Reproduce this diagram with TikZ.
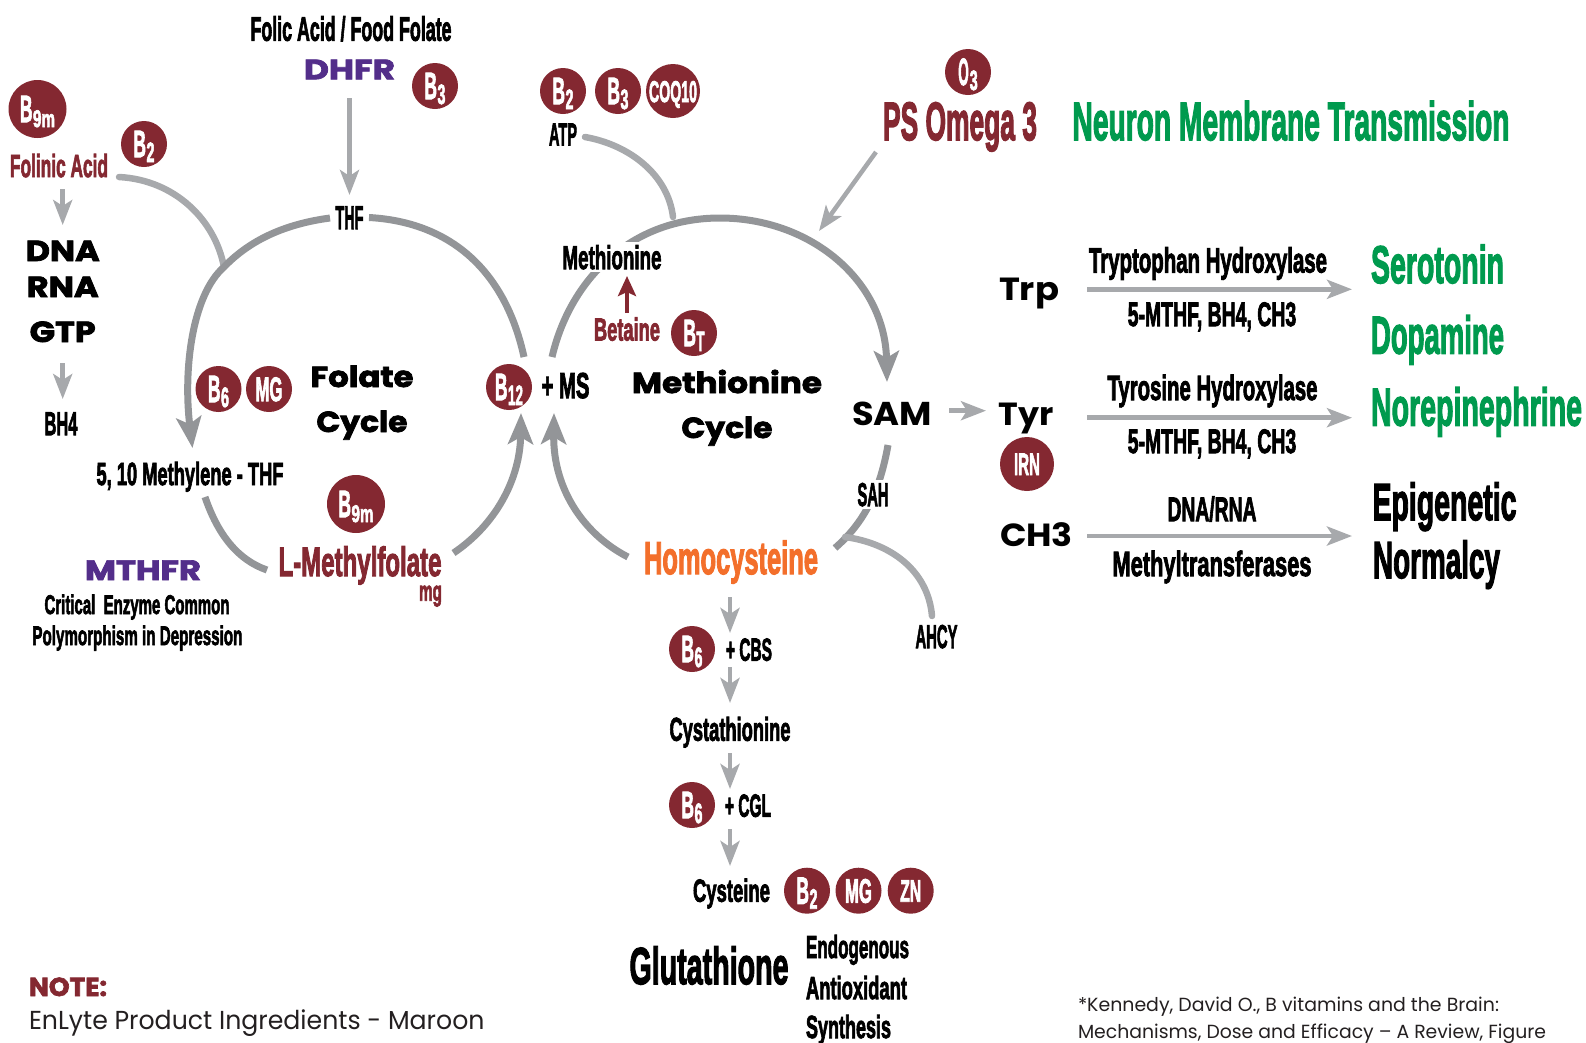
\documentclass[tikz,border=0pt]{standalone}
\usepackage{fontspec}
\usepackage{graphicx}
\usetikzlibrary{arrows.meta}
\newfontfamily\lgf[BoldFeatures={FakeBold=3}]{Liberation Sans}
\newfontfamily\mbf[BoldFeatures={FakeBold=2.5}]{Poppins}
\newfontfamily\msf{Poppins}
\newfontfamily\mrf{Poppins}
\definecolor{maroon}{HTML}{842831}
\definecolor{arcgray}{HTML}{939598}
\definecolor{feedgray}{HTML}{A7A9AC}
\definecolor{mgreen}{HTML}{009A4E}
\definecolor{mpurple}{HTML}{532E8A}
\definecolor{morange}{HTML}{F36F2B}
\definecolor{notegray}{HTML}{231F20}
% condensed label: size, width, text
\newcommand{\cgt}[3]{\resizebox{#2pt}{\height}{\fontsize{#1pt}{#1pt}\lgf\bfseries #3}}
\newcommand{\mbt}[3]{\resizebox{#2pt}{\height}{\fontsize{#1pt}{#1pt}\mbf\bfseries #3}}
\newcommand{\mst}[3]{\resizebox{#2pt}{\height}{\fontsize{#1pt}{#1pt}\msf\bfseries #3}}
\newcommand{\mrt}[3]{\resizebox{#2pt}{\height}{\fontsize{#1pt}{#1pt}\mrf #3}}
% bubble contents: main w, sub, sub w, sub size
\newcommand{\bsub}[4]{\raisebox{-13pt}[0pt][0pt]{\cgt{38}{#1}{B}\hspace{0.5pt}\raisebox{-5pt}{\cgt{#4}{#3}{#2}}}}
\tikzset{
  x=1pt,y=-1pt,
  lbl/.style={anchor=base,inner sep=0pt,outer sep=0pt,text=black},
  cover/.style={lbl,fill=white,inner xsep=3pt,inner ysep=3pt},
  bub/.style={circle,fill=maroon,inner sep=0pt,text=white,minimum size=46pt},
  bigbub/.style={bub,minimum size=58pt},
  cyc/.style={draw=arcgray,line width=7pt},
  cycarrow/.style={cyc,-{Stealth[length=31pt,width=25pt,inset=7pt]}},
  feed/.style={draw=feedgray,line width=6.5pt,line cap=round},
  flow/.style={draw=feedgray,line width=4.5pt,-{Stealth[length=25pt,width=19pt,inset=6pt]}},
}
\pgfdeclarelayer{bg}
\pgfsetlayers{bg,main}
\begin{document}
\begin{tikzpicture}
\useasboundingbox (0,0) rectangle (1586,1042);
% ---- left block
\node[lbl] (folic) at (351,40.7) {\cgt{34}{201}{Folic Acid / Food Folate}};
\node[lbl,text=mpurple] (dhfr) at (349.5,79.3) {\mbt{28}{91}{DHFR}};
\node[lbl] (thf) at (349.5,229) {\cgt{33}{28}{THF}};
\node[lbl,text=maroon] (folinic) at (59,177) {\cgt{32}{98}{Folinic Acid}};
\node[lbl] (dna) at (62.7,261) {\mbt{29}{74}{DNA}};
\node[lbl] (rna) at (62.7,297) {\mbt{29}{72}{RNA}};
\node[lbl] (gtp) at (62.7,342) {\mbt{29}{66}{GTP}};
\node[lbl] (bh4) at (61,435) {\cgt{33}{33}{BH4}};
\node[lbl] (mthf) at (190,485) {\cgt{32}{187}{5, 10 Methylene - THF}};
\node[lbl] (folate) at (362,387) {\mbt{29}{103}{Folate}};
\node[lbl] (cycle) at (362,432) {\mbt{29}{91}{Cycle}};
\node[lbl,text=maroon] (lmf) at (360,576) {\cgt{41}{163}{L-Methylfolate}};
\node[lbl,text=maroon] (mg) at (430.5,600.7) {\cgt{28}{23}{mg}};
\node[lbl,text=mpurple] (mthfr) at (143,580) {\mbt{28}{116}{MTHFR}};
\node[lbl] (crit) at (137,614) {\cgt{27}{185}{Critical\ \ Enzyme Common}};
\node[lbl] (poly) at (137.4,645) {\cgt{27}{210}{Polymorphism in Depression}};
\node[lbl] (ms) at (565.5,398) {\cgt{36}{48}{+ MS}};
% ---- methionine cycle
\node[lbl] (atp) at (563,145.5) {\cgt{32}{28}{ATP}};
\node[cover] (meth) at (612,269) {\cgt{33}{99}{Methionine}};
\node[lbl,text=maroon] (betaine) at (627,340.5) {\cgt{32}{66}{Betaine}};
\node[lbl] (mcyc1) at (727,393) {\mbt{29}{190}{Methionine}};
\node[lbl] (mcyc2) at (727,438) {\mbt{29}{91}{Cycle}};
\node[lbl] (sam) at (892,425.7) {\mst{33}{80}{SAM}};
\node[cover,inner xsep=4pt] (sah) at (873,506) {\cgt{33}{31}{SAH}};
\node[lbl,text=morange] (homo) at (731,574) {\cgt{46}{174}{Homocysteine}};
\node[lbl] (ahcy) at (936.5,648) {\cgt{33}{42}{AHCY}};
\node[lbl] (cbs) at (749,660.7) {\cgt{32}{46}{+ CBS}};
\node[lbl] (cysta) at (730,740.7) {\cgt{33}{121}{Cystathionine}};
\node[lbl] (cgl) at (748,816.7) {\cgt{32}{46}{+ CGL}};
\node[lbl] (cyst) at (731.5,901.7) {\cgt{32}{77}{Cysteine}};
\node[lbl] (glu) at (709,984) {\cgt{52}{159}{Glutathione}};
\node[lbl] (endo) at (857.5,958) {\cgt{32}{103}{Endogenous}};
\node[lbl] (anti) at (856.5,999) {\cgt{32}{101}{Antioxidant}};
\node[lbl] (synth) at (848.5,1038) {\cgt{32}{85}{Synthesis}};
% ---- right block
\node[lbl,text=maroon] (ps) at (960,140) {\cgt{54}{154}{PS Omega 3}};
\node[lbl,text=mgreen] (neuron) at (1291,140) {\cgt{54}{437}{Neuron Membrane Transmission}};
\node[lbl] (trp) at (1029,300) {\mst{32}{60}{Trp}};
\node[lbl] (tyr) at (1026,425) {\mst{32}{55}{Tyr}};
\node[lbl] (ch3) at (1036.5,546.7) {\mst{32}{73}{CH3}};
\node[lbl] (tph) at (1208,272.5) {\cgt{35}{238}{Tryptophan Hydroxylase}};
\node[lbl] (cof1) at (1212,326) {\cgt{34}{168.5}{5-MTHF, BH4, CH3}};
\node[lbl] (tyh) at (1212.5,400) {\cgt{35}{210}{Tyrosine Hydroxylase}};
\node[lbl] (cof2) at (1212,453) {\cgt{34}{168.5}{5-MTHF, BH4, CH3}};
\node[lbl] (dnarna) at (1212,521) {\cgt{34}{89}{DNA/RNA}};
\node[lbl] (mtf) at (1212,576) {\cgt{35}{199}{Methyltransferases}};
\node[lbl,text=mgreen] (sero) at (1437.5,283) {\cgt{53}{133}{Serotonin}};
\node[lbl,text=mgreen] (dopa) at (1437.5,353.5) {\cgt{53}{133}{Dopamine}};
\node[lbl,text=mgreen] (nore) at (1476.5,425.5) {\cgt{53}{211}{Norepinephrine}};
\node[lbl] (epi) at (1444.5,520) {\cgt{52}{144}{Epigenetic}};
\node[lbl] (norm) at (1436.5,578) {\cgt{52}{127}{Normalcy}};
% ---- notes
\node[lbl,anchor=base west,text=maroon] (note) at (29,996) {\mbt{26}{78}{NOTE:}};
\node[lbl,anchor=base west,text=notegray] (enlyte) at (29,1029) {\mrt{26}{455.5}{EnLyte Product Ingredients - Maroon}};
\node[lbl,anchor=base west,text=notegray] (ref1) at (1078,1011) {\mrt{19}{421}{*Kennedy, David O., B vitamins and the Brain:}};
\node[lbl,anchor=base west,text=notegray] (ref2) at (1078,1038) {\mrt{19}{468}{Mechanisms, Dose and Efficacy – A Review, Figure}};
% ---- bubbles
\node[bigbub] (b9a) at (37.5,109) {\bsub{12.5}{9m}{22}{24}};
\node[bub] (b2a) at (144,144) {\bsub{12.5}{2}{8}{28}};
\node[bub] (b3a) at (435,86) {\bsub{12.5}{3}{8}{28}};
\node[bub] (b6a) at (218.5,389) {\bsub{12.5}{6}{8}{28}};
\node[bub] (mga) at (269,389) {\raisebox{-12pt}[0pt][0pt]{\cgt{34}{27}{MG}}};
\node[bub] (b12) at (509,387) {\bsub{12.5}{12}{15}{28}};
\node[bigbub] (b9b) at (356,504) {\bsub{12.5}{9m}{22}{24}};
\node[bub] (b2b) at (563,91) {\bsub{12.5}{2}{8}{28}};
\node[bub] (b3b) at (618,91) {\bsub{12.5}{3}{8}{28}};
\node[bub,minimum size=54pt] (coq) at (673,91) {\raisebox{-11pt}[0pt][0pt]{\cgt{30}{48}{COQ10}}};
\node[bub] (o3) at (968,72) {\raisebox{-13pt}[0pt][0pt]{\cgt{38}{10.5}{O}\hspace{1pt}\raisebox{-5pt}{\cgt{28}{8}{3}}}};
\node[bub] (bt) at (694,333) {\bsub{12.5}{T}{8}{28}};
\node[bub,minimum size=54pt] (irn) at (1027,464) {\raisebox{-11pt}[0pt][0pt]{\cgt{31}{26}{IRN}}};
\node[bub] (b6b) at (692,649) {\bsub{12.5}{6}{8}{28}};
\node[bub] (b6c) at (692,805) {\bsub{12.5}{6}{8}{28}};
\node[bub] (b2c) at (807,890.7) {\bsub{12.5}{2}{8}{28}};
\node[bub] (mgb) at (858.5,890.7) {\raisebox{-12pt}[0pt][0pt]{\cgt{34}{27}{MG}}};
\node[bub] (zn) at (910.7,890.7) {\raisebox{-11pt}[0pt][0pt]{\cgt{31}{21}{ZN}}};
% ---- connector ends
\coordinate (thfL) at (330,218);
\coordinate (thfR) at (369,217.5);
\coordinate (junc) at (224,267);
\coordinate (tipMthf) at (192.5,448);
\coordinate (endB12) at (524,357);
\coordinate (startFolinic) at (119,177);
\coordinate (startLow) at (205,497);
\coordinate (endLow) at (267,570);
\coordinate (startLmf) at (453.5,553);
\coordinate (tipB12) at (521,413);
\coordinate (startHomoL) at (628,557);
\coordinate (tipMS) at (554,413);
\coordinate (startMeth) at (552,357);
\coordinate (topMeth) at (720,218);
\coordinate (tipSam) at (887,382);
\coordinate (startSah) at (888,445);
\coordinate (endSah) at (835,548);
\coordinate (startAhcy) at (932,616);
\coordinate (endAhcy) at (845,537);
\coordinate (startAtp) at (585,137);
\coordinate (endAtp) at (673,217);
\coordinate (dhfrA) at (349.5,98);
\coordinate (dhfrB) at (349.5,195);
\coordinate (folA) at (62.7,189);
\coordinate (folB) at (62.7,225);
\coordinate (gtpA) at (62.7,363);
\coordinate (gtpB) at (62.7,399);
\coordinate (psA) at (876,152);
\coordinate (psB) at (819,231);
\coordinate (betA) at (627,313);
\coordinate (betB) at (627,276);
\coordinate (samA) at (949,410.7);
\coordinate (samB) at (986,410.7);
\coordinate (trpA) at (1087,289.3);
\coordinate (trpB) at (1352,289.3);
\coordinate (tyrA) at (1087,417.7);
\coordinate (tyrB) at (1352,417.7);
\coordinate (chA) at (1087,536);
\coordinate (chB) at (1352,536);
\coordinate (h1) at (730,597);
\coordinate (h2) at (730,633);
\coordinate (c1) at (730,667);
\coordinate (c2) at (730,703);
\coordinate (c3) at (730,753);
\coordinate (c4) at (730,789);
\coordinate (c5) at (730,829);
\coordinate (c6) at (730,866);
\begin{pgfonlayer}{bg}
\draw[cyc] (thfR) .. controls (450,222) and (505,270) .. (endB12);
\draw[feed] (startFolinic) .. controls (175,180) and (215,220) .. (junc);
\draw[cycarrow] (thfL) .. controls (285,224) and (250,240) .. (junc) .. controls (192,295) and (183,370) .. (tipMthf);
\draw[cyc] (startLow) .. controls (218,535) and (238,560) .. (endLow);
\draw[cycarrow] (startLmf) .. controls (495,525) and (520,480) .. (tipB12);
\draw[cycarrow] (startHomoL) .. controls (585,535) and (553,490) .. (tipMS);
\draw[feed] (startAtp) .. controls (630,145) and (668,175) .. (endAtp);
\draw[cycarrow] (startMeth) .. controls (570,280) and (630,218) .. (topMeth) .. controls (810,218) and (885,280) .. (tipSam);
\draw[cyc] (startSah) .. controls (880,490) and (865,522) .. (endSah);
\draw[feed] (startAhcy) .. controls (928,570) and (890,543) .. (endAhcy);
\draw[flow] (dhfrA) -- (dhfrB);
\draw[flow] (folA) -- (folB);
\draw[flow] (gtpA) -- (gtpB);
\draw[flow] (psA) -- (psB);
\draw[flow,draw=maroon,fill=maroon,-{Stealth[length=20pt,width=18pt,inset=4pt]}] (betA) -- (betB);
\draw[flow] (samA) -- (samB);
\draw[flow] (trpA) -- (trpB);
\draw[flow] (tyrA) -- (tyrB);
\draw[flow] (chA) -- (chB);
\draw[flow] (h1) -- (h2);
\draw[flow] (c1) -- (c2);
\draw[flow] (c3) -- (c4);
\draw[flow] (c5) -- (c6);
\end{pgfonlayer}
\end{tikzpicture}
\end{document}
